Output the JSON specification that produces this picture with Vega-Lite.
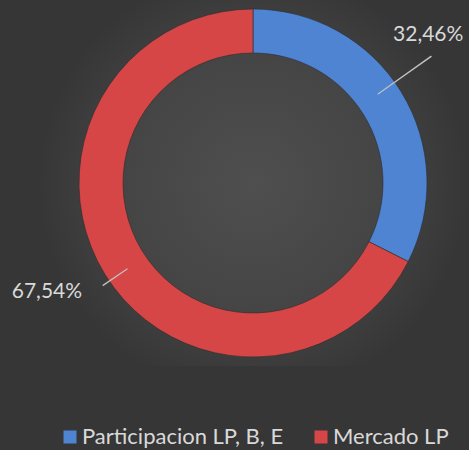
{
  "$schema": "https://vega.github.io/schema/vega-lite/v6.json",
  "width": 432,
  "height": 366,
  "autosize": {"type": "none"},
  "padding": {"left": 37, "top": 0, "right": 0, "bottom": 84},
  "background": "#363636",
  "config": {"view": {"stroke": null}, "font": "Lato"},
  "data": {
    "values": [
      {"category": "Participacion LP, B, E", "value": 32.46, "label": "32,46%", "order": 1},
      {"category": "Mercado LP", "value": 67.54, "label": "67,54%", "order": 2}
    ]
  },
  "layer": [
    {
      "data": {"values": [{}]},
      "mark": {
        "type": "rect",
        "fill": {
          "gradient": "radial",
          "x1": 0.5, "y1": 0.5, "r1": 0,
          "x2": 0.5, "y2": 0.5, "r2": 0.5,
          "stops": [
            {"offset": 0, "color": "#4f4f4f"},
            {"offset": 0.6, "color": "#454545"},
            {"offset": 1, "color": "#363636"}
          ]
        }
      },
      "encoding": {}
    },
    {
      "mark": {"type": "arc", "outerRadius": 174, "innerRadius": 130, "stroke": "#2e2e2e", "strokeWidth": 0.6},
      "encoding": {
        "theta": {"field": "value", "type": "quantitative", "stack": true},
        "order": {"field": "order", "type": "quantitative"},
        "color": {
          "field": "category",
          "type": "nominal",
          "scale": {"domain": ["Participacion LP, B, E", "Mercado LP"], "range": ["#4e84d2", "#d64646"]},
          "legend": {
            "orient": "none",
            "direction": "horizontal",
            "legendX": 22,
            "legendY": 426,
            "title": null,
            "symbolType": "square",
            "symbolSize": 169,
            "symbolStrokeWidth": 0,
            "labelFont": "Lato",
            "labelFontSize": 22,
            "labelColor": "#d9d9d9",
            "labelOffset": 1,
            "columnPadding": 26,
            "padding": 0,
            "labelLimit": 400
          }
        }
      }
    },
    {
      "transform": [{"filter": "datum.order == 1"}],
      "mark": {"type": "arc", "outerRadius": 219, "innerRadius": 153, "fill": "#c0c0c0"},
      "encoding": {
        "theta": {"datum": 15.1, "type": "quantitative"},
        "theta2": {"datum": 15.22}
      }
    },
    {
      "transform": [{"filter": "datum.order == 2"}],
      "mark": {"type": "arc", "outerRadius": 182, "innerRadius": 152, "fill": "#c0c0c0"},
      "encoding": {
        "theta": {"datum": 65.41, "type": "quantitative"},
        "theta2": {"datum": 65.53}
      }
    },
    {
      "mark": {"type": "text", "radius": 215, "dx": -8, "dy": -35, "align": "center", "baseline": "middle", "fontSize": 21, "color": "#d9d9d9"},
      "encoding": {
        "theta": {"field": "value", "type": "quantitative", "stack": true},
        "order": {"field": "order", "type": "quantitative"},
        "text": {"condition": {"test": "datum.order == 1", "field": "label"}, "value": ""}
      }
    },
    {
      "mark": {"type": "text", "radius": 210, "dx": 8, "dy": -1, "align": "right", "baseline": "middle", "fontSize": 21, "color": "#d9d9d9"},
      "encoding": {
        "theta": {"field": "value", "type": "quantitative", "stack": true},
        "order": {"field": "order", "type": "quantitative"},
        "text": {"condition": {"test": "datum.order == 2", "field": "label"}, "value": ""}
      }
    }
  ]
}
